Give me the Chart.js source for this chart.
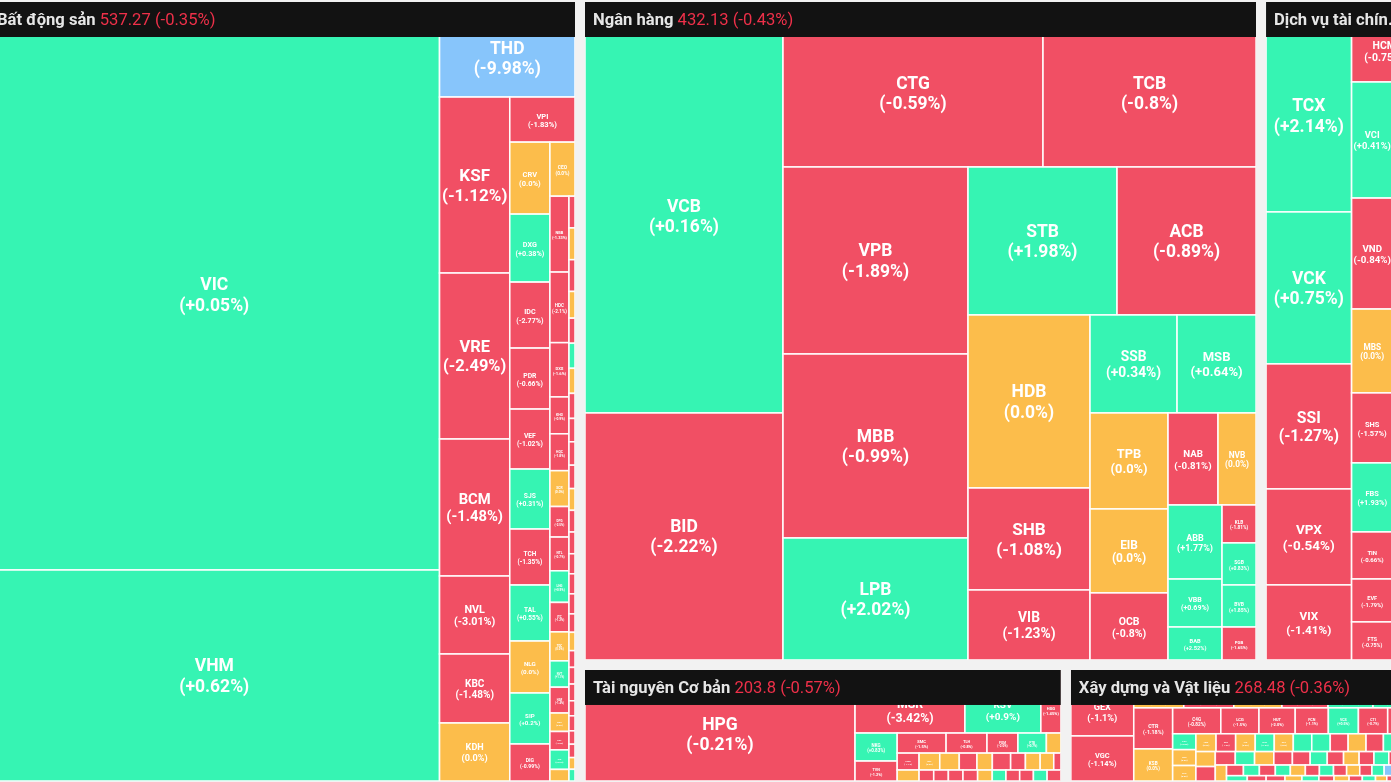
<!DOCTYPE html>
<html>
<head>
<meta charset="utf-8">
<script src="https://cdn.jsdelivr.net/npm/chart.js@4.4.1/dist/chart.umd.min.js"></script>
<style>
  html, body { margin: 0; padding: 0; background: #f2f2f2; overflow: hidden; }
  #wrap { position: relative; width: 1391px; height: 782px; }
</style>
</head>
<body>
<div id="wrap"><canvas id="heat"></canvas></div>
<script>
// ---- sectors (top level) ----
const sectorNames = ['Bất động sản', 'Ngân hàng', 'Dịch vụ tài chính', 'Tài nguyên Cơ bản', 'Xây dựng và Vật liệu'];
const sectorIndex = [537.27, 432.13, 612.4, 203.8, 268.48];
const sectorChange = [-0.35, -0.43, -0.12, -0.57, -0.36];
const sectorCap = [470.2, 454.9, 107.5, 58.8, 43.1];

// ---- Bất động sản ----
const bdsTickers = ['VIC','VHM','THD','KSF','VRE','BCM','NVL','KBC','KDH','VPI','CRV','DXG','IDC','PDR','VEF','SJS','TCH','TAL','NLG','SIP','DIG','CEO',
  'NBB','HDC','DXS','KHG','HQC','SCR','DPG','NTL','LHG','ITC','TDC','NVT','HAR','DRH','CCL','TIG','API',
  'IJC','VPH','D2D','SZC','LDG','FIR','NHA','TDH','PVL','HPX','CKG','AGG','HTN','KOS','VRC','OGC','DTA','HU1','SGR','PTL','TIP','BII','UDC','CIG','VCR','IDV','LGL','SDU'];
const bdsValues = [2550.3, 947.4, 128.3, 123.2, 116.2, 95.9, 54.6, 48.3, 40.6, 29.3, 28.8, 27.2, 26.4, 24.4, 24.0, 24.0, 22.4, 22.4, 20.8, 20.4, 14.8, 13.5,
  14.4, 13.4, 10.3, 7.0, 7.0, 6.8, 5.8, 6.4, 6.0, 5.6, 5.5, 5.0, 4.9, 3.5, 3.5, 3.7, 2.2,
  1.9, 1.9, 1.9, 1.6, 1.5, 1.5, 1.5, 1.5, 1.4, 1.4, 1.4, 1.3, 1.3, 1.3, 1.2, 1.2, 1.2, 1.1, 1.1, 1.0, 1.0, 1.0, 0.9, 0.9, 0.8, 0.8, 0.7, 0.7];
const bdsChanges = [0.05, 0.62, -9.98, -1.12, -2.49, -1.48, -3.01, -1.48, 0, -1.83, 0, 0.38, -2.77, -0.66, -1.02, 0.31, -1.35, 0.55, 0, 0.2, -0.99, 0,
  -1.33, -2.1, -1.6, -0.9, -1.8, 0, -2.5, -0.7, 0.9, -1.2, 0, 1.1, -1.4, 0, -2.0, 0.6, 0,
  -1.2, 0, -0.8, 0, -1.5, 0.7, 0, -2.2, -0.6, -1.9, -1.1, 0, -0.5, -2.4, -1.3, -0.9, -1.7, -2.8, 0, -1.0, -3.1, -0.4, -1.6, -2.0, -0.7, -1.4, 0, 1.2];

// ---- Ngân hàng ----
const nhTickers = ['VCB','BID','CTG','TCB','VPB','MBB','LPB','STB','ACB','HDB','SHB','VIB','SSB','MSB','TPB','EIB','OCB','NAB','NVB','ABB','VBB','BAB','KLB','SGB','BVB','PGB'];
const nhValues = [813.8, 489.1, 429.0, 351.5, 346.0, 340.4, 225.7, 220.5, 205.7, 211.1, 124.4, 85.4, 85.3, 77.4, 74.9, 65.5, 52.3, 46.0, 35.0, 40.0, 25.9, 17.8, 12.9, 14.3, 14.3, 11.2];
const nhChanges = [0.16, -2.22, -0.59, -0.8, -1.89, -0.99, 2.02, 1.98, -0.89, 0, -1.08, -1.23, 0.34, 0.64, 0, 0, -0.8, -0.81, 0, 1.77, 0.69, 2.52, -1.81, 0.83, 1.85, -1.65];

// ---- Dịch vụ tài chính ----
const dvTickers = ['TCX','VCK','SSI','VPX','VIX','HCM','VCI','VND','MBS','SHS','FBS','TIN','EVF','FTS','BSI','CTS','ORS'];
const dvValues = [178.5, 129.2, 106.3, 81.6, 63.8, 52.0, 47.6, 45.5, 34.4, 28.7, 28.3, 19.3, 17.6, 15.6, 52.0, 46.0, 40.7];
const dvChanges = [2.14, 0.75, -1.27, -0.54, -1.41, -0.75, 0.41, -0.84, 0, -1.57, 1.93, -0.66, -1.79, -0.75, -0.5, 0.4, -1.1];

// ---- Tài nguyên Cơ bản ----
const tnTickers = ['HPG','MSR','KSV','HSG','NKG','TVN','SMC','TLH','POM','PTB','VGS','HMC','TIS','DTL','TNI','HAP','BMC','NNC','VCA','SHI','TNB','KVC',
  'TKU','DHM','HLA','BKC','VIM','CKV','MTA','TDS','SSM','KMT'];
const tnValues = [299.7, 69.3, 47.9, 12.6, 11.8, 8.4, 9.8, 8.2, 6.2, 5.7, 2.9, 3.7, 2.4, 3.5, 3.3, 3.0, 2.6, 3.1, 2.5, 2.5, 2.3, 1.2,
  1.6, 1.6, 1.6, 1.6, 1.6, 1.5, 1.5, 1.5, 1.5, 1.5];
const tnChanges = [-0.21, -3.42, 0.9, -1.45, 0.83, -1.2, -1.5, -0.8, -2.0, 0.7, 0, -1.1, 0, 0, 0, -1.3, 0, -0.9, -0.6, 0, 0, -2.1,
  -1.0, -0.7, -1.9, -0.5, 0, 1.3, -2.2, -0.8, 0.6, -1.4];

// ---- Xây dựng và Vật liệu ----
const xdTickers = ['GEX','VGC','VCG','CII','HHV','CTD','PC1','HT1','CTR','KSB','C4G','LCG','HUT','FCN','VCS','CTI','TV2',
  'VC7','VNE','PHC','HBC','SCG','LIG','DHA','CVT','VLB','HVH','THG','ROS','FCM','CRC','PTC','DC4','MST','VC3','L14','SJE',
  'TCD','PXI','LLM','HTI','VCC','BCE','S99','DXV','CX8','HID','SD5','SD9','HOM','TXM','BTS','BCC','QNC','HLY','SCI','CDC',
  'MCG','HAS','VMC','PVX','DIH','VE3','VE9','HUB','KTT','ICG','NDX','BHT','VGV','MEC','L18','PVV','QTC'];
const xdValues = [41.6, 28.4, 19.0, 19.0, 18.3, 17.5, 17.1, 16.7, 16.0, 12.5, 12.5, 9.9, 9.4, 8.6, 7.8, 7.6, 7.6,
  3.7, 3.7, 3.6, 3.6, 3.5, 3.5, 3.4, 3.4, 3.3, 3.3, 3.2, 3.2, 3.1, 3.0, 3.0, 2.9, 2.8, 2.7, 2.6, 2.6,
  2.5, 2.4, 2.3, 2.2, 2.1, 2.0, 2.0, 1.9, 1.9, 1.8, 1.8, 1.7, 1.7, 1.6, 1.6, 1.5, 1.5, 1.4, 1.4, 1.3,
  1.3, 1.2, 1.2, 1.1, 1.1, 1.0, 1.0, 0.9, 0.9, 0.8, 0.8, 0.7, 0.7, 0.6, 0.6, 0.5, 0.5];
const xdChanges = [-1.1, -1.14, 0, -0.9, 0, -1.2, 0.6, 0.4, -1.18, 0, -0.82, -1.5, -2.0, -1.1, 0.5, -0.7, -0.4,
  0.8, 0, 0, 0, -1.2, 0, 1.5, 0, 0.6, 2.1, -0.9, 0, -1.7, 0.4, -2.3, 0, -0.6, -1.1, 1.0, 0,
  -1.4, -0.8, 0.9, -2.0, 0, -0.5, 1.8, -1.3, 0, 0, -3.0, 0.7, -0.7, 1.2, 0, -1.6, 0.5, -2.6, 0, -0.4,
  2.4, -9.7, -1.0, 0, 1.4, -1.8, -0.3, 0, 0.3, -2.2, 0, -0.9, 1.1, 0, -1.5, 0.6, -0.8];

// ---- layout settings (scale units = page pixels, view is a crop of a wider map) ----
const world = { x: -16, y: -3, w: 1438, h: 789 };
const sectorPad = 5;
const headerH = 35;
const titleFont = 16.6;
const sectorRows = [1, 2, 1, 1];
const childRows = [
  [2, 1, 6, 1, 11, 1, 17],
  [2, 2, 3, 2, 3, 2, 3, 2, 3, 1, 3],
  [5, 1, 8],
  [1, 3, 2, 5, 2, 9],
  [2, 6, 2, 7]
];
const sectorData = [
  [bdsTickers, bdsValues, bdsChanges],
  [nhTickers, nhValues, nhChanges],
  [dvTickers, dvValues, dvChanges],
  [tnTickers, tnValues, tnChanges],
  [xdTickers, xdValues, xdChanges]
];

function aspect(a, b) { return Math.max(a / b, b / a); }

// squarified rows, direction alternates (first row is a column)
function pickRow(areas, i, len) {
  let sum = areas[i], n = 1;
  while (i + n < areas.length) {
    const prev = areas[i + n - 1];
    const t0 = sum / len, t1 = (sum + areas[i + n]) / len;
    if (aspect(t1, prev / t1) > aspect(t0, prev / t0)) break;
    sum += areas[i + n];
    n++;
  }
  return n;
}

function layoutRows(values, box, rows) {
  const total = values.reduce((a, b) => a + b, 0);
  const areas = values.map(v => v * box.w * box.h / total);
  const out = [];
  let x = box.x, y = box.y, w = box.w, h = box.h, dir = 0, i = 0, r = 0;
  while (i < areas.length) {
    let n = (rows && r < rows.length) ? rows[r] : pickRow(areas, i, dir === 0 ? h : w);
    n = Math.max(1, Math.min(n, areas.length - i));
    const last = i + n >= areas.length;
    let sum = 0;
    for (let j = i; j < i + n; j++) sum += areas[j];
    if (dir === 0) {
      const cw = last ? w : sum / h;
      let yy = y;
      for (let j = i; j < i + n; j++) {
        const ch = last ? h * areas[j] / sum : areas[j] / cw;
        out.push({ x: x, y: yy, w: cw, h: ch });
        yy += ch;
      }
      x += cw; w -= cw;
    } else {
      const rh = last ? h : sum / w;
      let xx = x;
      for (let j = i; j < i + n; j++) {
        const cw = last ? w * areas[j] / sum : areas[j] / rh;
        out.push({ x: xx, y: y, w: cw, h: rh });
        xx += cw;
      }
      y += rh; h -= rh;
    }
    i += n; r++; dir = 1 - dir;
  }
  return out;
}

function fmtPct(v) {
  if (v === 0) return '(0.0%)';
  let s = Math.abs(v).toFixed(2);
  if (s.endsWith('0')) s = s.slice(0, -1);
  return '(' + (v > 0 ? '+' : '-') + s + '%)';
}

function cellColor(v) {
  if (v <= -6.9) return '#87c5fb';
  if (v >= 6.9) return '#c46cf0';
  if (v > 0) return '#36f4b3';
  if (v < 0) return '#f14f64';
  return '#fcbd4b';
}

const treemapPlugin = {
  id: 'treemap',
  beforeDraw(chart) {
    const ctx = chart.ctx;
    ctx.save();
    ctx.fillStyle = '#f2f2f2';
    ctx.fillRect(0, 0, chart.width, chart.height);
    ctx.restore();
  },
  afterDatasetsDraw(chart) {
    const ctx = chart.ctx;
    const xs = chart.scales.x, ys = chart.scales.y;
    const toPx = b => {
      const x0 = xs.getPixelForValue(b.x), x1 = xs.getPixelForValue(b.x + b.w);
      const y0 = ys.getPixelForValue(b.y), y1 = ys.getPixelForValue(b.y + b.h);
      return { x: x0, y: y0, w: x1 - x0, h: y1 - y0 };
    };
    const sectors = layoutRows(sectorCap, world, sectorRows);
    ctx.save();
    sectors.forEach((cell, s) => {
      const panel = { x: cell.x + sectorPad, y: cell.y + sectorPad, w: cell.w - 2 * sectorPad, h: cell.h - 2 * sectorPad };
      const [tickers, values, changes] = sectorData[s];
      const kids = layoutRows(values, panel, childRows[s]);
      const pp = toPx(panel);
      ctx.save();
      ctx.beginPath();
      ctx.rect(pp.x, pp.y, pp.w, pp.h);
      ctx.clip();
      // cells
      kids.forEach((k, i) => {
        const p = toPx(k);
        ctx.fillStyle = cellColor(changes[i]);
        ctx.fillRect(p.x, p.y, p.w, p.h);
        ctx.strokeStyle = 'rgba(255,255,255,0.92)';
        ctx.lineWidth = 1.6;
        ctx.strokeRect(p.x, p.y, p.w, p.h);
      });
      // labels
      ctx.textAlign = 'center';
      ctx.textBaseline = 'middle';
      ctx.fillStyle = '#ffffff';
      kids.forEach((k, i) => {
        const p = toPx(k);
        const name = tickers[i], pct = fmtPct(changes[i]);
        let fs = Math.min(17.5, 0.0823 * Math.pow(p.w * p.h, 0.566));
        ctx.font = 'bold ' + fs + 'px Roboto';
        const tw = Math.max(ctx.measureText(name).width, ctx.measureText(pct).width);
        if (tw > p.w - 4) fs *= (p.w - 4) / tw;
        if (fs < 2.2) return;
        const overlap = Math.max(0, Math.min(p.y + p.h, pp.y + headerH) - p.y);
        const cy = p.y + p.h / 2 + 1.5 + 0.25 * overlap;
        const cx = p.x + p.w / 2;
        ctx.font = 'bold ' + fs + 'px Roboto';
        ctx.fillText(name, cx, cy - 0.58 * fs);
        ctx.fillText(pct, cx, cy + 0.58 * fs);
      });
      // header bar drawn over the top of the sector
      ctx.fillStyle = '#121212';
      ctx.fillRect(pp.x, pp.y, pp.w, headerH);
      const maxW = pp.w - 21;
      let title = sectorNames[s];
      const valText = ' ' + sectorIndex[s] + ' ' + fmtPct(sectorChange[s]);
      ctx.textAlign = 'left';
      ctx.font = 'bold ' + titleFont + 'px Roboto';
      let nameW = ctx.measureText(title).width;
      ctx.font = titleFont + 'px Roboto';
      const valW = ctx.measureText(valText).width;
      let showVal = true;
      if (nameW + valW > maxW) {
        showVal = false;
        ctx.font = 'bold ' + titleFont + 'px Roboto';
        while (title.length > 1 && ctx.measureText(title + '...').width > maxW) title = title.slice(0, -1);
        title += '...';
        nameW = ctx.measureText(title).width;
      }
      const ty = pp.y + headerH / 2 + 1;
      ctx.font = 'bold ' + titleFont + 'px Roboto';
      ctx.fillStyle = '#e6e6e6';
      ctx.fillText(title, pp.x + 8, ty);
      if (showVal) {
        ctx.font = titleFont + 'px Roboto';
        ctx.fillStyle = sectorChange[s] < 0 ? '#ee3049' : (sectorChange[s] > 0 ? '#2fe0a4' : '#f5b942');
        ctx.fillText(valText, pp.x + 8 + nameW, ty);
      }
      ctx.restore();
    });
    ctx.restore();
  }
};

new Chart(document.getElementById('heat'), {
  type: 'scatter',
  data: { datasets: [{ data: [], pointRadius: 0 }] },
  options: {
    responsive: true,
    maintainAspectRatio: false,
    animation: false,
    layout: { padding: 0 },
    plugins: { legend: { display: false }, tooltip: { enabled: false } },
    scales: {
      x: { type: 'linear', min: 0, max: 1391, display: false },
      y: { type: 'linear', min: 0, max: 782, reverse: true, display: false }
    }
  },
  plugins: [treemapPlugin]
});
</script>
</body>
</html>
